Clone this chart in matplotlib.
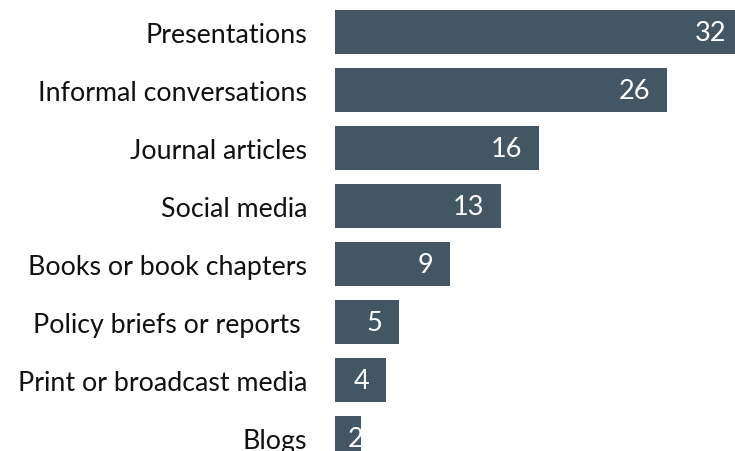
import matplotlib.pyplot as plt

plt.rcParams['font.family'] = ['Lato', 'DejaVu Sans']

categories = ['Presentations', 'Informal conversations', 'Journal articles',
              'Social media', 'Books or book chapters',
              'Policy briefs or reports ', 'Print or broadcast media', 'Blogs']
counts = [32, 26, 16, 13, 9, 5, 4, 2]

bar_color = '#425664'

fig = plt.figure(figsize=(7.35, 4.52), dpi=100)
ax = fig.add_axes([335 / 735, 0, 400 / 735, 1])

pos = list(range(len(categories)))
ax.barh(pos, counts, height=0.76, color=bar_color)

ax.set_xlim(0, 400 / 12.77)
ax.set_ylim(7.224, -0.569)

ax.set_yticks(pos)
ax.set_yticklabels(categories, fontsize=19.3, color='#111111')
ax.tick_params(axis='y', length=0, pad=20)
ax.set_xticks([])
for s in ax.spines.values():
    s.set_visible(False)

# value labels sit just inside the bar end
for i, v in enumerate(counts):
    x = max(v - 1.33, 2.2)
    ax.text(x, i, str(v), ha='right', va='center', color='white', fontsize=19.5)

fig.savefig('out.png', dpi=100)
